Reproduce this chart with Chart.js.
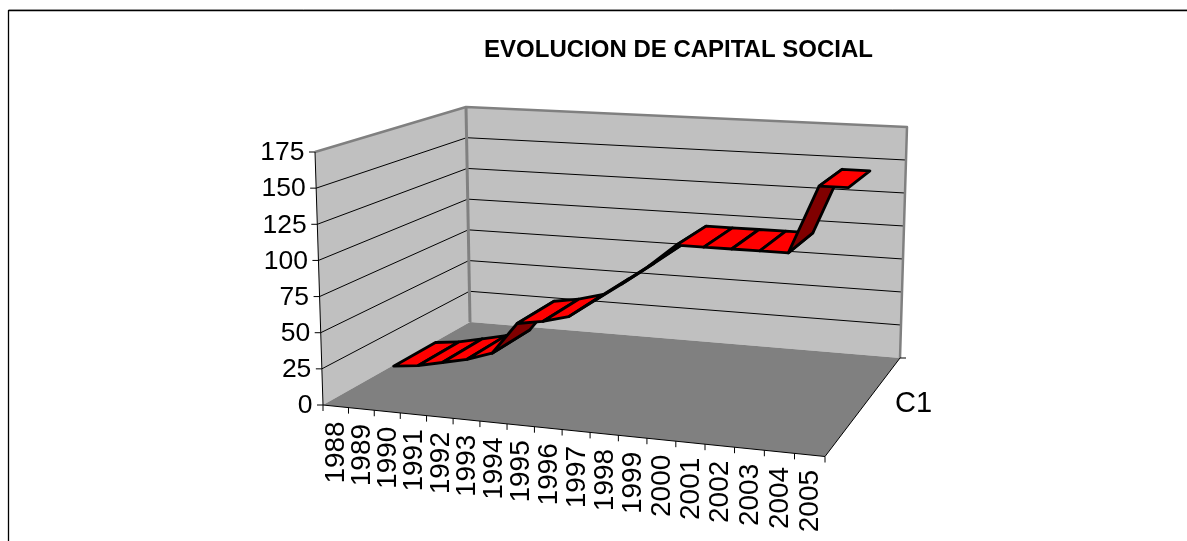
<!DOCTYPE html>
<html><head><meta charset="utf-8">
<style>html,body{margin:0;padding:0;background:#fff;overflow:hidden}canvas{display:block}</style>
<script src="https://cdn.jsdelivr.net/npm/chart.js@4"></script>
</head><body><canvas id="c" width="1187" height="541"></canvas>
<script>
const years = ["1988","1989","1990","1991","1992","1993","1994","1995","1996","1997","1998","1999","2000","2001","2002","2003","2004","2005"];
const capitalSocial = [5,7,11,15,21,44,47,52,65,78,92,108,108,108,108,108,155,155];
const seriesName = "C1";
const chartTitle = "EVOLUCION DE CAPITAL SOCIAL";
const yMax = 175, yStep = 25;

// projected box corners (layout only)
const box = {A:[323,405],B:[825,456.5],C:[470,322],D:[900,358],E:[315,152],H:[835,181],F:[466,107],G:[907,127]};
const ribbonFront = 0.36, ribbonBack = 0.65;
const font = '"Liberation Sans", Arial, sans-serif';

function quadMap(p0,p1,p2,p3){
  const sx=p0[0]-p1[0]+p2[0]-p3[0], sy=p0[1]-p1[1]+p2[1]-p3[1];
  const dx1=p1[0]-p2[0], dx2=p3[0]-p2[0], dy1=p1[1]-p2[1], dy2=p3[1]-p2[1];
  const den=dx1*dy2-dx2*dy1, g=(sx*dy2-dx2*sy)/den, h=(dx1*sy-sx*dy1)/den;
  const a=p1[0]-p0[0]+g*p1[0], b=p3[0]-p0[0]+h*p3[0], d=p1[1]-p0[1]+g*p1[1], e=p3[1]-p0[1]+h*p3[1];
  return (u,v)=>{const w=g*u+h*v+1;return [(a*u+b*v+p0[0])/w,(d*u+e*v+p0[1])/w];};
}
const floorMap = quadMap(box.A,box.B,box.D,box.C);
const topMap = quadMap(box.E,box.H,box.G,box.F);
function project(fx,z,value){
  const f=floorMap(fx,z), t=topMap(fx,z), k=value/yMax;
  return [f[0]+(t[0]-f[0])*k, f[1]+(t[1]-f[1])*k];
}
function poly(ctx,pts,fill,stroke,lw){
  ctx.beginPath();
  pts.forEach((p,i)=>i?ctx.lineTo(p[0],p[1]):ctx.moveTo(p[0],p[1]));
  if(fill){ctx.closePath();ctx.fillStyle=fill;ctx.fill();}
  if(stroke){ctx.strokeStyle=stroke;ctx.lineWidth=lw;ctx.stroke();}
}
function seg(ctx,a,b,color,lw){poly(ctx,[a,b],null,color,lw);}

const box3d = {
  id:'box3d',
  beforeDatasetsDraw(chart){
    const ctx=chart.ctx, xs=chart.scales.x, ys=chart.scales.y, area=chart.chartArea;
    const n=years.length;
    ctx.save();
    ctx.lineJoin='round';
    // outer frame
    poly(ctx,[[9,9.5],[1187,9.5]],null,'#c8c8c8',1);
    poly(ctx,[[8.5,541],[8.5,10.5],[1187,10.5]],null,'#000',1.3);
    const {A,B,C,D,E,F,G}=box;
    poly(ctx,[A,C,F,E],'#c0c0c0');
    poly(ctx,[C,D,G,F],'#c0c0c0');
    poly(ctx,[A,B,D,C],'#808080');
    // gridlines
    ys.ticks.forEach(t=>{
      if(t.value===0||t.value===yMax) return;
      const a=project(0,0,t.value), b=project(0,1,t.value), c=project(1,1,t.value);
      poly(ctx,[a,b,c],null,'#000',1);
    });
    poly(ctx,[E,F,G,D],null,'#808080',2.5);
    seg(ctx,C,F,'#808080',3);
    seg(ctx,A,E,'#000',1);
    seg(ctx,A,B,'#000',1);
    seg(ctx,B,D,'#000',1);
    // y ticks + labels
    ctx.fillStyle='#000';ctx.font='26.5px '+font;ctx.textAlign='right';ctx.textBaseline='middle';
    ys.ticks.forEach(t=>{
      const p=project(0,0,t.value);
      seg(ctx,[p[0]-6,p[1]],p,'#000',1);
      ctx.fillStyle='#000';
      ctx.fillText(String(t.value),p[0]-10.5,p[1]+1);
    });
    // category ticks + labels
    const step=(xs.getPixelForValue(1)-xs.getPixelForValue(0));
    for(let i=0;i<=n;i++){
      const fx=(xs.getPixelForValue(0)-step/2+i*step-area.left)/area.width;
      const p=project(fx,0,0);
      seg(ctx,p,[p[0],p[1]+6],'#000',1);
    }
    ctx.font='28px '+font;
    years.forEach((y,i)=>{
      const fx=(xs.getPixelForValue(i)-area.left)/area.width;
      const p=project(fx,0,0);
      ctx.save();
      ctx.translate(p[0]+1,p[1]+15);
      ctx.rotate(-Math.PI/2);
      ctx.textAlign='right';ctx.textBaseline='middle';ctx.fillStyle='#000';
      ctx.fillText(y,0,0);
      ctx.restore();
    });
    // depth axis
    seg(ctx,D,[D[0]+6,D[1]],'#000',1);
    ctx.font='29px '+font;
    ctx.textAlign='left';ctx.textBaseline='middle';ctx.fillStyle='#000';
    ctx.fillText(seriesName,895,404);
    // ribbon, from the line dataset's own elements
    const els=chart.getDatasetMeta(0).data;
    const pts=els.map(el=>({fx:(el.x-area.left)/area.width, v:ys.getValueForPixel(el.y)}));
    for(let i=0;i<pts.length-1;i++){
      const a=pts[i], b=pts[i+1];
      const f1=project(a.fx,ribbonFront,a.v), f2=project(b.fx,ribbonFront,b.v);
      const b2=project(b.fx,ribbonBack,b.v), b1=project(a.fx,ribbonBack,a.v);
      const cross=(f2[0]-f1[0])*(b1[1]-f1[1])-(f2[1]-f1[1])*(b1[0]-f1[0]);
      poly(ctx,[f1,f2,b2,b1],cross<0?'#ff0000':'#800000');
      ctx.closePath();
      ctx.strokeStyle='#000';ctx.lineWidth=2.8;ctx.stroke();
    }
    ctx.restore();
  }
};

new Chart(document.getElementById('c'),{
  type:'line',
  data:{labels:years,datasets:[{label:seriesName,data:capitalSocial,showLine:false,pointRadius:0,borderColor:'#ff0000',backgroundColor:'#ff0000'}]},
  options:{
    responsive:false,animation:false,
    layout:{padding:{left:170,right:0,top:0,bottom:0}},
    scales:{
      x:{type:'category',offset:true,display:false},
      y:{type:'linear',min:0,max:yMax,ticks:{stepSize:yStep},display:false}
    },
    plugins:{
      legend:{display:false},tooltip:{enabled:false},
      title:{display:true,text:chartTitle,fullSize:false,color:'#000',font:{family:font,size:24,weight:'bold'},padding:{top:36,bottom:10}}
    }
  },
  plugins:[box3d]
});
</script></body></html>
